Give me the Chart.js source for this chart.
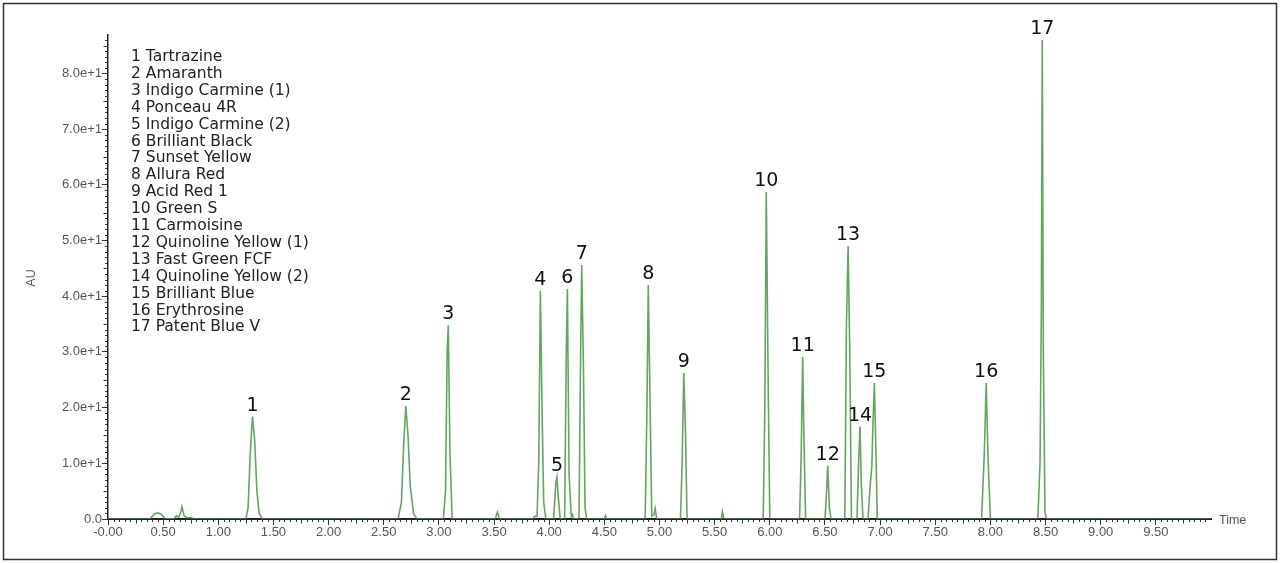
<!DOCTYPE html>
<html lang="en">
	<head>
		<meta charset="UTF-8" />
		<script src="https://cdn.jsdelivr.net/npm/chart.js@4.4.0/dist/chart.umd.min.js"></script>
		<title>Chromatogram</title>
		<style>
			body { margin: 0; background: #fff; }
			#wrap { position: relative; width: 1280px; height: 563px; }
		</style>
	</head>
	<body>
		<div id="wrap"><canvas id="myChart"></canvas></div>
		<script>
			// trace: retention time (min) and absorbance (AU)
			const traceTime = [
				0.00, 0.38, 0.42, 0.45, 0.48, 0.52, 0.60, 0.62, 0.64, 0.66, 0.67, 0.69, 0.72, 0.75, 0.78,
				1.25, 1.27, 1.29, 1.31, 1.33, 1.35, 1.37, 1.40,
				2.63, 2.66, 2.68, 2.70, 2.72, 2.74, 2.77, 2.80,
				3.04, 3.06, 3.075, 3.085, 3.10, 3.12,
				3.51, 3.53, 3.55,
				3.85, 3.87, 3.89, 3.905, 3.92, 3.935, 3.95, 3.97,
				4.04, 4.06, 4.07, 4.08, 4.10,
				4.14, 4.155, 4.165, 4.18, 4.20, 4.21, 4.22,
				4.27, 4.285, 4.295, 4.31, 4.325, 4.34,
				4.50, 4.51, 4.52,
				4.87, 4.885, 4.898, 4.915, 4.93, 4.95, 4.96, 4.975,
				5.19, 5.205, 5.22, 5.235, 5.25,
				5.56, 5.57, 5.585,
				5.94, 5.955, 5.968, 5.985, 6.00,
				6.27, 6.285, 6.298, 6.31, 6.325,
				6.50, 6.515, 6.525, 6.54, 6.555,
				6.68, 6.695, 6.71, 6.725, 6.74,
				6.79, 6.805, 6.818, 6.83, 6.845,
				6.89, 6.91, 6.925, 6.935, 6.948, 6.96, 6.975,
				7.92, 7.945, 7.962, 7.977, 8.00,
				8.43, 8.45, 8.462, 8.47, 8.48, 8.495, 8.51,
				10.0
			];
			const traceAU = [
				0.0, 0.0, 0.9, 1.1, 0.9, 0.0, 0.1, 0.6, 0.3, 1.2, 2.2, 0.6, 0.2, 0.3, 0.0,
				0.0, 2.0, 12.0, 18.4, 14.0, 5.0, 1.0, 0.0,
				0.0, 3.0, 13.0, 20.3, 15.0, 6.0, 1.0, 0.0,
				0.0, 5.0, 30.0, 34.8, 12.0, 0.0,
				0.0, 1.2, 0.0,
				0.0, 0.5, 0.5, 10.0, 41.0, 20.0, 3.0, 0.0,
				0.0, 6.5, 7.5, 4.5, 0.0,
				0.0, 30.0, 41.3, 8.0, 0.5, 0.8, 0.0,
				0.0, 30.0, 45.6, 28.0, 2.0, 0.0,
				0.0, 0.6, 0.0,
				0.0, 18.0, 42.0, 20.0, 0.5, 0.8, 1.9, 0.0,
				0.0, 10.0, 26.2, 16.0, 0.0,
				0.0, 1.3, 0.0,
				0.0, 20.0, 58.7, 25.0, 0.0,
				0.0, 12.0, 29.1, 14.0, 0.0,
				0.0, 5.0, 9.6, 2.0, 0.0,
				0.0, 35.0, 49.0, 30.0, 0.0,
				0.0, 10.0, 16.6, 6.0, 0.0,
				0.0, 6.0, 9.4, 17.0, 24.4, 14.0, 0.0,
				0.0, 12.0, 24.4, 12.0, 0.0,
				0.0, 10.0, 38.0, 86.0, 30.0, 1.0, 0.0,
				0.0
			];
			// peak numbers and where they sit
			const peakNums = ['1', '2', '3', '4', '5', '6', '7', '8', '9', '10', '11', '12', '13', '14', '15', '16', '17'];
			const peakTimes = [1.31, 2.70, 3.085, 3.92, 4.07, 4.165, 4.295, 4.898, 5.22, 5.968, 6.298, 6.525, 6.71, 6.818, 6.948, 7.962, 8.47];
			const peakHeights = [18.4, 20.3, 34.8, 41.0, 7.5, 41.3, 45.6, 42.0, 26.2, 58.7, 29.1, 9.6, 49.0, 16.6, 24.4, 24.4, 86.0];
			const compounds = [
				'Tartrazine', 'Amaranth', 'Indigo Carmine (1)', 'Ponceau 4R', 'Indigo Carmine (2)',
				'Brilliant Black', 'Sunset Yellow', 'Allura Red', 'Acid Red 1', 'Green S', 'Carmoisine',
				'Quinoline Yellow (1)', 'Fast Green FCF', 'Quinoline Yellow (2)', 'Brilliant Blue',
				'Erythrosine', 'Patent Blue V'
			];
			const xTickStep = 0.5;
			const yTickStep = 10;

			const points = traceTime.map((t, i) => ({ x: t, y: traceAU[i] }));

			// extra drawing: frame, minor ticks, labels, peak numbers, compound list
			const decor = {
				id: 'decor',
				afterDraw(chart) {
					const ctx = chart.ctx;
					const xs = chart.scales.x;
					const ys = chart.scales.y;
					ctx.save();
					// frame
					ctx.strokeStyle = '#333';
					ctx.lineWidth = 1.5;
					ctx.strokeRect(3.5, 3.5, 1273, 556);
					// minor ticks on x
					ctx.strokeStyle = '#333';
					ctx.lineWidth = 1;
					const yb = ys.getPixelForValue(0);
					for (let i = 1; i <= 200; i++) {
						if (i % 10 === 0) continue;
						const px = Math.round(xs.getPixelForValue(i * 0.05)) + 0.5;
						const len = i % 5 === 0 ? 4.5 : 3;
						ctx.beginPath();
						ctx.moveTo(px, yb);
						ctx.lineTo(px, yb + len);
						ctx.stroke();
					}
					// minor ticks on y
					const xl = xs.left;
					for (let v = 1; v <= 86; v++) {
						if (v % 10 === 0) continue;
						const py = Math.round(ys.getPixelForValue(v)) + 0.5;
						const len = v % 5 === 0 ? 4.5 : 3;
						ctx.beginPath();
						ctx.moveTo(xl - len, py);
						ctx.lineTo(xl, py);
						ctx.stroke();
					}
					// axis names
					ctx.fillStyle = '#555';
					ctx.font = '12.5px "Liberation Sans"';
					ctx.textAlign = 'left';
					ctx.textBaseline = 'middle';
					ctx.fillText('Time', 1219, 521);
					ctx.save();
					ctx.translate(32, 278);
					ctx.rotate(-Math.PI / 2);
					ctx.textAlign = 'center';
					ctx.fillText('AU', 0, 0);
					ctx.restore();
					// peak numbers
					ctx.fillStyle = '#111';
					ctx.font = '19px "DejaVu Sans"';
					ctx.textAlign = 'center';
					ctx.textBaseline = 'alphabetic';
					peakNums.forEach((n, i) => {
						const px = xs.getPixelForValue(peakTimes[i]);
						const py = ys.getPixelForValue(peakHeights[i]);
						ctx.fillText(n, px, py - 6);
					});
					// compound list
					ctx.fillStyle = '#222';
					ctx.font = '15.5px "DejaVu Sans"';
					ctx.textAlign = 'left';
					ctx.textBaseline = 'middle';
					compounds.forEach((c, i) => {
						ctx.fillText((i + 1) + ' ' + c, 131, 57 + i * 16.9);
					});
					ctx.restore();
				}
			};

			const ctx = document.getElementById('myChart').getContext('2d');
			const myChart = new Chart(ctx, {
				type: 'scatter',
				data: {
					datasets: [
						{
							data: points,
							showLine: true,
							borderColor: 'rgba(70, 150, 70, 0.85)',
							borderWidth: 1.6,
							pointRadius: 0,
							tension: 0
						}
					]
				},
				options: {
					responsive: true,
					maintainAspectRatio: false,
					animation: false,
					layout: { padding: { left: 0, right: 69, top: 35, bottom: 0 } },
					plugins: { legend: { display: false }, tooltip: { enabled: false } },
					scales: {
						x: {
							type: 'linear',
							min: 0,
							max: 10,
							afterFit(s) { s.height = 44; },
							border: { display: true, color: '#222', width: 2 },
							grid: { drawOnChartArea: false, drawTicks: true, tickLength: 6, color: '#333' },
							ticks: {
								stepSize: xTickStep,
								maxRotation: 0,
								autoSkip: false,
								padding: 0,
								color: '#555',
								font: { family: 'Liberation Sans', size: 13 },
								callback(v) {
									if (v >= 10) return null;
									return v === 0 ? '-0.00' : v.toFixed(2);
								}
							}
						},
						y: {
							min: 0,
							max: 86.9,
							afterFit(s) { s.width = 108; },
							border: { display: true, color: '#222', width: 1.5 },
							grid: { drawOnChartArea: false, drawTicks: true, tickLength: 6, color: '#333' },
							ticks: {
								stepSize: yTickStep,
								padding: 0,
								color: '#555',
								font: { family: 'Liberation Sans', size: 13 },
								callback(v) {
									if (v % 10 !== 0) return null;
									return v === 0 ? '0.0' : (v / 10).toFixed(1) + 'e+1';
								}
							}
						}
					}
				},
				plugins: [decor]
			});
		</script>
	</body>
</html>
